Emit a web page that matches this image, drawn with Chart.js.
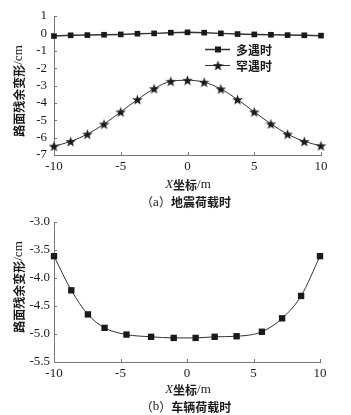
<!DOCTYPE html>
<html>
<head>
<meta charset="utf-8">
<script src="https://cdn.jsdelivr.net/npm/chart.js@4.4.1/dist/chart.umd.min.js"></script>
<style>
  body { margin: 0; background: #fff; }
  canvas { position: absolute; left: 0; }
</style>
</head>
<body>
<canvas id="quakeChart" width="351" height="210" style="top:0"></canvas>
<canvas id="vehicleChart" width="351" height="205" style="top:210px"></canvas>
<script>
// (a) earthquake load: X coordinate (m) and residual deformation (cm)
const quakeX = [-10, -8.75, -7.5, -6.25, -5, -3.75, -2.5, -1.25, 0, 1.25, 2.5, 3.75, 5, 6.25, 7.5, 8.75, 10];
const frequentVals = [-0.15, -0.11, -0.10, -0.08, -0.06, -0.02, 0, 0.04, 0.06, 0.04, 0, -0.04, -0.06, -0.08, -0.10, -0.11, -0.13];
const rareVals = [-6.49, -6.22, -5.80, -5.22, -4.52, -3.81, -3.18, -2.76, -2.70, -2.81, -3.20, -3.81, -4.52, -5.21, -5.80, -6.22, -6.47];
const seriesNames = ["多遇时", "罕遇时"];

// (b) vehicle load
const vehicleX = [-10, -8.7, -7.45, -6.2, -4.55, -2.7, -1.0, 0.65, 2.08, 3.73, 5.63, 7.15, 8.58, 10];
const vehicleVals = [-3.61, -4.22, -4.65, -4.89, -5.01, -5.05, -5.07, -5.07, -5.05, -5.04, -4.96, -4.72, -4.32, -3.61];

const CJK = "Noto Sans CJK SC";
const SERIF = "Liberation Serif";
const INK = "#1a1a1a";
const AXIS = "#777";

// 5-pointed star marker (Chart.js "star" is an asterisk)
function makeStar(size) {
  const c = document.createElement("canvas");
  c.width = size; c.height = size;
  const g = c.getContext("2d");
  const r = size / 2, ri = r * 0.42;
  g.beginPath();
  for (let i = 0; i < 10; i++) {
    const rad = i % 2 ? ri : r;
    const a = -Math.PI / 2 + i * Math.PI / 5;
    g.lineTo(r + rad * Math.cos(a), r + rad * Math.sin(a) + 0.5);
  }
  g.closePath();
  g.fillStyle = INK;
  g.fill();
  return c;
}
const starImg = makeStar(11);

const toPoints = (xs, ys) => xs.map((x, i) => ({ x: x, y: ys[i] }));

// text made of runs with different fonts, centred on (cx, cy)
function drawRuns(ctx, runs, cx, cy, vertical) {
  ctx.save();
  ctx.translate(cx, cy);
  if (vertical) ctx.rotate(-Math.PI / 2);
  ctx.textBaseline = "middle";
  ctx.textAlign = "left";
  ctx.fillStyle = INK;
  let total = 0;
  runs.forEach(r => { ctx.font = r[1]; total += ctx.measureText(r[0]).width; });
  let x = -total / 2;
  runs.forEach(r => {
    ctx.font = r[1];
    ctx.fillText(r[0], x, r[2] || 0);
    x += ctx.measureText(r[0]).width;
  });
  ctx.restore();
}

// short tick marks pointing into the plot
const inwardTicks = {
  id: "inwardTicks",
  afterDraw(chart) {
    const { ctx, chartArea, scales } = chart;
    ctx.save();
    ctx.strokeStyle = AXIS;
    ctx.lineWidth = 1;
    ctx.beginPath();
    scales.y.ticks.forEach(t => {
      const y = Math.round(scales.y.getPixelForValue(t.value)) + 0.5;
      ctx.moveTo(chartArea.left, y);
      ctx.lineTo(chartArea.left + 3, y);
    });
    scales.x.ticks.forEach(t => {
      const x = Math.round(scales.x.getPixelForValue(t.value)) + 0.5;
      ctx.moveTo(x, chartArea.bottom);
      ctx.lineTo(x, chartArea.bottom - 3);
    });
    ctx.stroke();
    ctx.restore();
  }
};

// axis titles + caption
function labelsPlugin(yTitleY, xTitleY, captionY, letter, captionText) {
  return {
    id: "labels",
    afterDraw(chart) {
      const ctx = chart.ctx;
      drawRuns(ctx, [["路面残余变形", "bold 12px '" + CJK + "'"], ["/cm", "13px '" + SERIF + "'"]], 19, yTitleY, true);
      drawRuns(ctx, [["X", "italic 13px '" + SERIF + "'"], ["坐标", "bold 12px '" + CJK + "'"], ["/m", "13px '" + SERIF + "'"]], 188, xTitleY);
      drawRuns(ctx, [["（", "12px '" + CJK + "'"], [letter, "13px '" + SERIF + "'"], ["）", "12px '" + CJK + "'"], [captionText, "bold 12px '" + CJK + "'"]], 186, captionY);
    }
  };
}

const quakeLegend = {
  id: "quakeLegend",
  afterDraw(chart) {
    const ctx = chart.ctx;
    const rows = [49, 65];
    ctx.save();
    rows.forEach((y, i) => {
      ctx.strokeStyle = "#333";
      ctx.lineWidth = i === 0 ? 1.5 : 1;
      ctx.beginPath();
      ctx.moveTo(205, y + 0.5);
      ctx.lineTo(230, y + 0.5);
      ctx.stroke();
      ctx.fillStyle = INK;
      if (i === 0) ctx.fillRect(215, y - 2.5, 6, 6);
      else ctx.drawImage(starImg, 212.5, y - 5);
      ctx.font = "bold 12px '" + CJK + "'";
      ctx.textBaseline = "middle";
      ctx.fillText(seriesNames[i], 236, y + 1);
    });
    ctx.restore();
  }
};

function axisOptions(yMin, yMax, yStep, yPad, xHeight, yFmt) {
  const tickFont = { family: SERIF, size: 13 };
  return {
    x: {
      type: "linear", min: -10, max: 10,
      ticks: { stepSize: 5, font: tickFont, color: INK, padding: 4, maxRotation: 0, autoSkip: false },
      grid: { drawOnChartArea: false, drawTicks: false },
      border: { color: AXIS, width: 1 },
      afterFit: s => { s.height = xHeight; }
    },
    y: {
      min: yMin, max: yMax,
      ticks: { stepSize: yStep, font: tickFont, color: INK, padding: yPad, callback: yFmt, autoSkip: false },
      grid: { drawOnChartArea: false, drawTicks: false },
      border: { color: AXIS, width: 1 },
      afterFit: s => { s.width = 54; }
    }
  };
}

new Chart(document.getElementById("quakeChart"), {
  type: "line",
  data: {
    datasets: [{
      label: seriesNames[0],
      data: toPoints(quakeX, frequentVals),
      borderColor: "#333", borderWidth: 1.5,
      pointStyle: "rect", pointRadius: 4, pointBackgroundColor: INK, pointBorderWidth: 0,
      tension: 0, clip: false
    }, {
      label: seriesNames[1],
      data: toPoints(quakeX, rareVals),
      borderColor: "#333", borderWidth: 1,
      pointStyle: starImg, pointRadius: 5,
      cubicInterpolationMode: "monotone", clip: false
    }]
  },
  options: {
    responsive: false,
    animation: false,
    layout: { padding: { top: 16, right: 30, left: 0, bottom: 0 } },
    scales: axisOptions(-7, 1, 1, 7, 55, v => v),
    plugins: { legend: { display: false }, tooltip: { enabled: false } }
  },
  plugins: [inwardTicks, quakeLegend, labelsPlugin(91, 185, 202.5, "a", "地震荷载时")]
});

new Chart(document.getElementById("vehicleChart"), {
  type: "line",
  data: {
    datasets: [{
      label: "车辆荷载",
      data: toPoints(vehicleX, vehicleVals),
      borderColor: "#333", borderWidth: 1,
      pointStyle: "rect", pointRadius: 4.5, pointBackgroundColor: INK, pointBorderWidth: 0,
      cubicInterpolationMode: "monotone", clip: false
    }]
  },
  options: {
    responsive: false,
    animation: false,
    layout: { padding: { top: 12, right: 31, left: 0, bottom: 0 } },
    scales: axisOptions(-5.5, -3.0, 0.5, 4, 53, v => v.toFixed(1)),
    plugins: { legend: { display: false }, tooltip: { enabled: false } }
  },
  plugins: [inwardTicks, labelsPlugin(77, 180, 197, "b", "车辆荷载时")]
});
</script>
</body>
</html>
